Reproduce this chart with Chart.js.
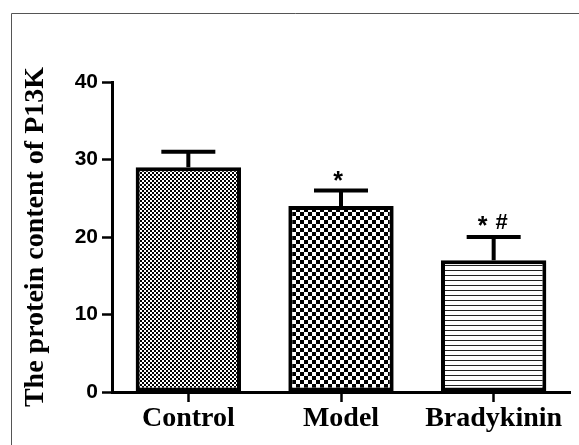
<!DOCTYPE html>
<html>
<head>
<meta charset="utf-8">
<script src="https://cdn.jsdelivr.net/npm/chart.js@4"></script>
<style>
  html, body { margin: 0; padding: 0; background: #fff; }
  #box { width: 579px; height: 445px; }
</style>
</head>
<body>
<div id="box"><canvas id="p13kChart" width="579" height="445"></canvas></div>
<script>
// datos
const categories = ['Control', 'Model', 'Bradykinin'];
const means = [29, 24, 17];
const errors = [2, 2, 3];
const markers = ['', '*', '*#'];
const yTicks = [0, 10, 20, 30, 40];

// rellenos con patron (tramas de la figura original)
function makePattern(size, drawFn) {
    const c = document.createElement('canvas');
    c.width = size;
    c.height = size;
    const g = c.getContext('2d');
    g.fillStyle = '#fff';
    g.fillRect(0, 0, size, size);
    g.fillStyle = '#000';
    drawFn(g, size);
    return document.getElementById('p13kChart').getContext('2d').createPattern(c, 'repeat');
}

const fineChecker = makePattern(4, (g) => {
    g.fillRect(0, 0, 2, 2);
    g.fillRect(2, 2, 2, 2);
});
const coarseChecker = makePattern(8, (g) => {
    g.fillRect(0, 0, 4, 4);
    g.fillRect(4, 4, 4, 4);
});
const hLines = makePattern(5, (g) => {
    g.fillStyle = '#222';
    g.fillRect(0, 0, 5, 1);
});

// marco fino alrededor de la figura
const framePlugin = {
    id: 'frame',
    beforeDraw(chart) {
        const c = chart.ctx;
        c.save();
        c.strokeStyle = '#555';
        c.lineWidth = 1;
        c.beginPath();
        c.moveTo(11.5, 445);
        c.lineTo(11.5, 13.5);
        c.lineTo(579, 13.5);
        c.stroke();
        c.restore();
    }
};

// barras de error y marcas de significancia
const errorPlugin = {
    id: 'errorBars',
    afterDatasetsDraw(chart) {
        const c = chart.ctx;
        const xs = chart.scales.x;
        const ys = chart.scales.y;
        c.save();
        c.strokeStyle = '#000';
        c.fillStyle = '#000';
        c.lineWidth = 4;
        c.lineCap = 'butt';
        means.forEach((m, i) => {
            const x = xs.getPixelForValue(i);
            const yTop = ys.getPixelForValue(m);
            const yCap = ys.getPixelForValue(m + errors[i]);
            c.beginPath();
            c.moveTo(x, yTop);
            c.lineTo(x, yCap);
            c.moveTo(x - 27, yCap);
            c.lineTo(x + 27, yCap);
            c.stroke();

            const mk = markers[i];
            if (!mk) return;
            c.textAlign = 'center';
            if (mk.includes('#')) {
                c.font = 'bold 25px "Liberation Sans"';
                c.textBaseline = 'middle';
                c.fillText('*', x - 11, yCap - 10);
                c.font = 'bold 22px "Liberation Sans"';
                c.textBaseline = 'alphabetic';
                c.fillText('#', x + 8, yCap - 8);
            } else {
                c.font = 'bold 25px "Liberation Sans"';
                c.textBaseline = 'middle';
                c.fillText('*', x - 3, yCap - 8);
            }
        });
        c.restore();
    }
};

new Chart(document.getElementById('p13kChart'), {
    type: 'bar',
    data: {
        labels: categories,
        datasets: [{
            data: means,
            backgroundColor: [fineChecker, coarseChecker, hLines],
            borderColor: '#000',
            borderWidth: 4,
            borderSkipped: false,
            categoryPercentage: 1,
            barPercentage: 0.69
        }]
    },
    options: {
        responsive: false,
        animation: false,
        layout: { padding: { left: 0, top: 82, right: 9, bottom: 0 } },
        plugins: {
            legend: { display: false },
            tooltip: { enabled: false }
        },
        scales: {
            x: {
                offset: true,
                afterFit: (s) => { s.height = 53; },
                grid: {
                    offset: false,
                    drawOnChartArea: false,
                    drawTicks: true,
                    tickLength: 10,
                    tickWidth: 2.5,
                    tickColor: '#000'
                },
                border: { display: true, color: '#000', width: 3 },
                ticks: {
                    padding: 0,
                    color: '#000',
                    font: { family: '"Liberation Serif"', size: 28, weight: 'bold' }
                }
            },
            y: {
                min: 0,
                max: 40,
                afterFit: (s) => { s.width = 112; },
                afterBuildTicks: (s) => { s.ticks = yTicks.map(v => ({ value: v })); },
                grid: {
                    drawOnChartArea: false,
                    drawTicks: true,
                    tickLength: 10,
                    tickWidth: 2.5,
                    tickColor: '#000'
                },
                border: { display: true, color: '#000', width: 3 },
                ticks: {
                    padding: 4,
                    color: '#000',
                    font: { family: '"Liberation Sans"', size: 21, weight: 'bold' }
                },
                title: {
                    display: true,
                    text: 'The protein content of P13K',
                    color: '#000',
                    padding: { top: 19, bottom: 0 },
                    font: { family: '"Liberation Serif"', size: 28, weight: 'bold' }
                }
            }
        }
    },
    plugins: [framePlugin, errorPlugin]
});
</script>
</body>
</html>
